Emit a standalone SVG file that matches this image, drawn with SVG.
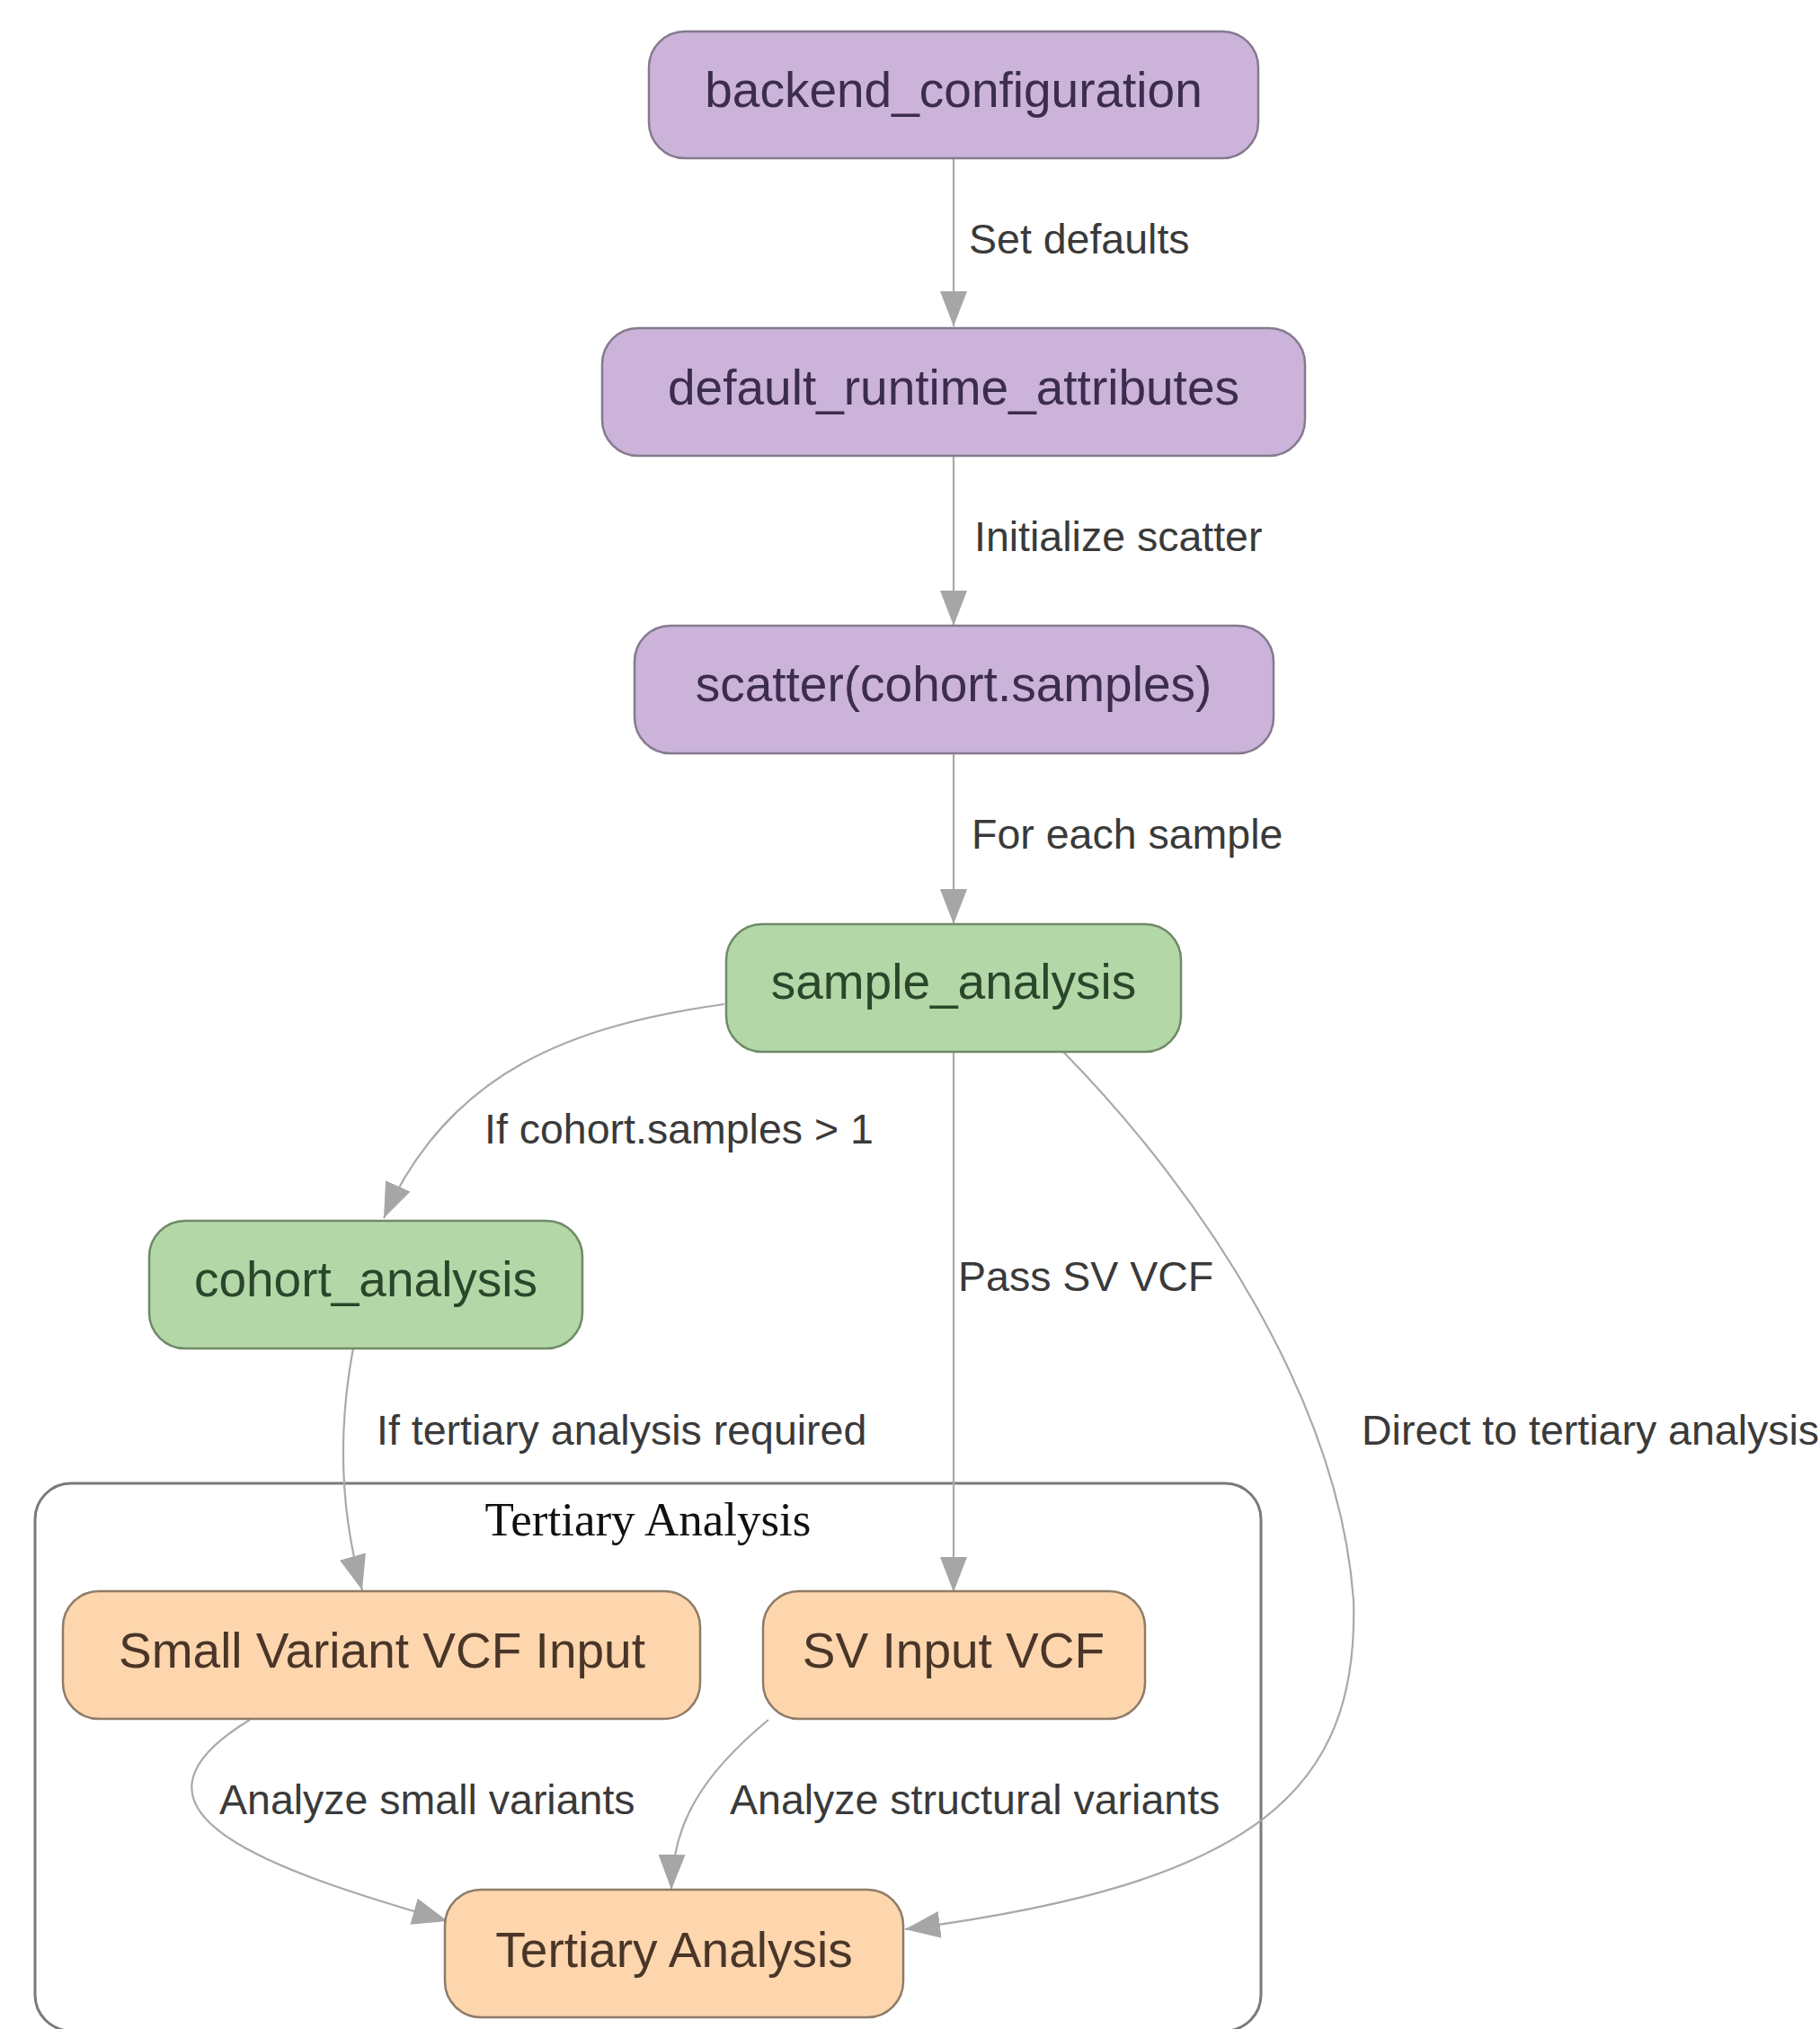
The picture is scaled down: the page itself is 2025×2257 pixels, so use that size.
<svg xmlns="http://www.w3.org/2000/svg" width="2025" height="2257" viewBox="0 0 2025 2257">
<defs>
<style>
.node rect{stroke-width:2.5}
.purple rect{fill:#cbb3da;stroke:#857a8e}
.purple text{fill:#3c2d4f}
.green rect{fill:#b4d7a8;stroke:#6f8a68}
.green text{fill:#2b472b}
.orange rect{fill:#fdd6ae;stroke:#8e7b68}
.orange text{fill:#4a3628}
.node text{font-family:"Liberation Sans",Arial,sans-serif;font-size:55px;text-anchor:middle}
.edge{fill:none;stroke:#a9a9a9;stroke-width:2.2;marker-end:url(#arr)}
.elabel{font-family:"Liberation Sans",Arial,sans-serif;font-size:46.5px;fill:#3a3a3a}
.cluster{fill:none;stroke:#7a7a7a;stroke-width:3}
.ctitle{font-family:"Liberation Serif","Times New Roman",serif;font-size:53px;fill:#111;text-anchor:middle}
</style>
<marker id="arr" markerUnits="userSpaceOnUse" markerWidth="40" markerHeight="30" refX="39" refY="15" orient="auto" viewBox="0 0 40 30">
<path d="M0,0 L39,15 L0,30 Z" fill="#a6a6a6"/>
</marker>
</defs>
<rect width="2025" height="2257" fill="#ffffff"/>

<g id="cluster_tertiary">
<rect class="cluster" x="39" y="1650" width="1364" height="609" rx="40"/>
<text class="ctitle" x="721" y="1708">Tertiary Analysis</text>
</g>

<g id="edges">
<path class="edge" d="M1061,176 L1061,363"/>
<path class="edge" d="M1061,507 L1061,696"/>
<path class="edge" d="M1061,838 L1061,1028"/>
<path class="edge" d="M806,1117 C640,1140 500,1190 427,1355"/>
<path class="edge" d="M1061,1170 L1061,1771"/>
<path class="edge" d="M1183,1170 C1340,1330 1490,1560 1506,1780 C1512,1990 1400,2095 1007,2146"/>
<path class="edge" d="M393,1500 C376,1590 378,1680 403,1769"/>
<path class="edge" d="M278,1913 C110,2015 300,2080 498,2137"/>
<path class="edge" d="M855,1913 C780,1975 748,2030 747,2102"/>
<text class="elabel" x="1078" y="282">Set defaults</text>
<text class="elabel" x="1084" y="613">Initialize scatter</text>
<text class="elabel" x="1081" y="944">For each sample</text>
<text class="elabel" x="539" y="1272">If cohort.samples &gt; 1</text>
<text class="elabel" x="1066" y="1436">Pass SV VCF</text>
<text class="elabel" x="419" y="1607">If tertiary analysis required</text>
<text class="elabel" x="1515" y="1607">Direct to tertiary analysis</text>
<text class="elabel" x="244" y="2018">Analyze small variants</text>
<text class="elabel" x="812" y="2018">Analyze structural variants</text>
</g>

<g id="backend_configuration" class="node purple">
<rect x="722" y="35" width="678" height="141" rx="40"/>
<text x="1061" y="119">backend_configuration</text>
</g>
<g id="default_runtime_attributes" class="node purple">
<rect x="670" y="365" width="782" height="142" rx="40"/>
<text x="1061" y="450">default_runtime_attributes</text>
</g>
<g id="scatter" class="node purple">
<rect x="706" y="696" width="711" height="142" rx="40"/>
<text x="1061" y="780">scatter(cohort.samples)</text>
</g>
<g id="sample_analysis" class="node green">
<rect x="808" y="1028" width="506" height="142" rx="40"/>
<text x="1061" y="1111">sample_analysis</text>
</g>
<g id="cohort_analysis" class="node green">
<rect x="166" y="1358" width="482" height="142" rx="40"/>
<text x="407" y="1442">cohort_analysis</text>
</g>
<g id="small_variant_vcf" class="node orange">
<rect x="70" y="1770" width="709" height="142" rx="40"/>
<text x="425" y="1855">Small Variant VCF Input</text>
</g>
<g id="sv_input_vcf" class="node orange">
<rect x="849" y="1770" width="425" height="142" rx="40"/>
<text x="1061" y="1855">SV Input VCF</text>
</g>
<g id="tertiary_analysis" class="node orange">
<rect x="495" y="2102" width="510" height="142" rx="40"/>
<text x="750" y="2188">Tertiary Analysis</text>
</g>
</svg>
